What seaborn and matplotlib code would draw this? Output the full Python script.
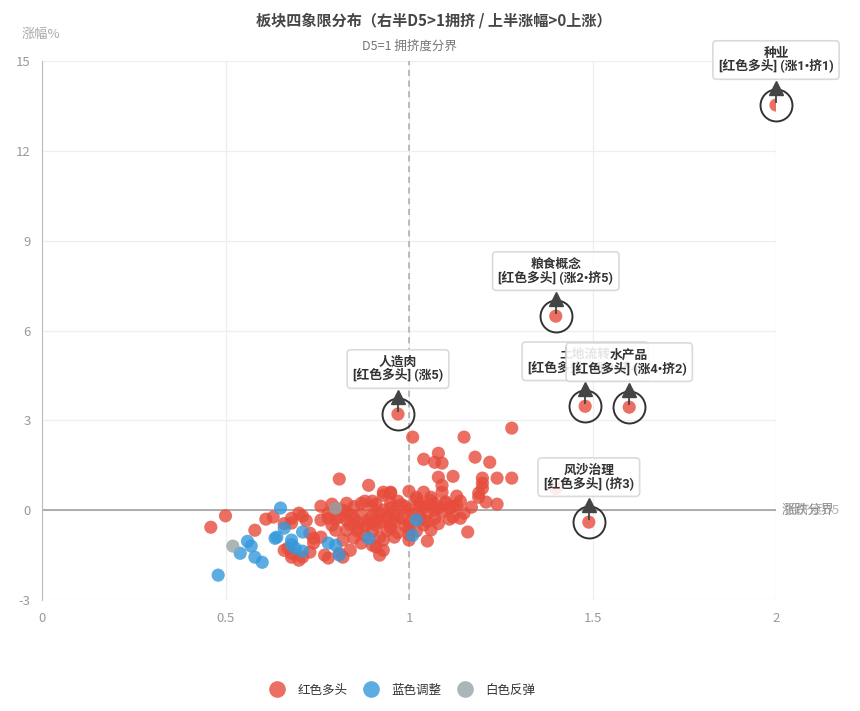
import matplotlib
matplotlib.use("Agg")
import matplotlib.pyplot as plt
from matplotlib.lines import Line2D
from matplotlib.transforms import offset_copy
import seaborn as sns
import pandas as pd

# 数据
red_points = [
    (0.46, -0.57), (0.50, -0.19), (0.58, -0.67), (0.61, -0.30), (0.63, -0.23), (0.66, -0.45),
    (0.68, -0.27), (0.70, -0.10), (0.71, -0.20), (0.68, -0.43), (0.72, -0.35),
    (0.73, -0.77), (0.74, -1.10), (0.73, -1.40), (0.71, -1.57), (0.66, -1.34), (0.68, -1.57),
    (0.70, -1.67), (0.67, -1.27), (0.68, -1.44), (0.74, -0.94), (0.76, -0.90),
    (0.77, -1.50), (0.78, -1.60), (0.82, -1.57), (0.84, -1.34), (0.81, -1.44),
    (0.76, -0.33), (0.78, -0.27), (0.81, -0.23), (0.83, -0.33), (0.80, -0.67), (0.83, -0.67),
    (0.86, -0.57), (0.89, -0.43), (0.91, -0.33), (0.94, -0.23),
    (0.82, -1.00), (0.85, -0.93), (0.87, -1.10), (0.90, -1.17), (0.93, -1.34), (0.92, -0.90),
    (0.91, -1.23), (0.93, -1.00), (0.92, -1.50),
    (0.76, 0.13), (0.79, 0.20), (0.83, 0.23), (0.87, 0.23), (0.90, 0.30), (0.93, 0.50),
    (0.93, 0.60), (0.95, 0.57), (0.81, 1.04), (0.89, 0.83),
    (0.88, 0.30), (0.97, 0.30), (1.02, 0.35), (1.06, 0.32), (1.10, 0.28), (1.14, 0.30),
    (0.80, 0.08), (0.85, 0.12), (0.90, 0.10), (0.95, 0.08), (0.99, 0.12), (1.04, 0.10),
    (1.08, 0.08), (1.12, 0.12), (1.17, 0.10),
    (0.78, -0.10), (0.83, -0.08), (0.87, -0.12), (0.92, -0.10), (0.96, -0.08), (1.01, -0.12),
    (1.05, -0.10), (1.09, -0.06), (1.15, -0.10),
    (0.80, -0.30), (0.85, -0.28), (0.89, -0.32), (0.94, -0.30), (0.98, -0.27), (1.03, -0.31),
    (1.07, -0.28), (1.11, -0.30),
    (0.79, -0.50), (0.84, -0.48), (0.88, -0.52), (0.91, -0.50), (0.95, -0.47), (0.99, -0.52),
    (1.04, -0.49), (1.08, -0.45),
    (0.86, -0.70), (0.90, -0.72), (0.94, -0.68), (0.97, -0.75), (1.02, -0.70), (1.06, -0.66),
    (0.90, -0.20), (0.93, 0.00), (0.97, -0.18), (1.00, 0.02), (1.03, -0.20), (1.07, 0.00),
    (0.86, -0.40), (0.92, -0.40), (0.96, -0.38), (1.00, -0.40), (1.05, -0.38), (0.95, -0.60),
    (1.00, -0.62), (0.88, -0.85), (0.96, -0.90), (1.00, -0.82), (0.98, 0.18), (1.03, 0.15),
    (1.06, 0.18), (0.91, 0.20), (0.95, 0.25), (0.84, -0.15), (0.82, 0.00),
    (1.00, 0.63), (1.01, 2.44), (1.04, 1.70), (1.08, 1.90), (1.07, 1.60), (1.09, 1.57),
    (1.15, 2.44), (1.18, 1.77), (1.22, 1.60), (1.28, 2.74),
    (1.08, 1.10), (1.12, 1.13), (1.09, 0.83), (1.09, 0.60), (1.13, 0.47), (1.13, 0.17),
    (1.20, 1.07), (1.20, 0.90), (1.20, 0.73), (1.24, 1.07), (1.28, 1.07), (1.19, 0.43),
    (1.21, 0.27), (1.24, 0.20), (1.19, 0.57),
    (0.95, 0.60), (1.02, 0.43), (1.03, 0.23), (1.07, 0.23), (1.10, 0.23), (1.11, 0.07),
    (1.06, 0.43), (1.04, 0.60),
    (1.12, -0.23), (1.14, -0.27), (1.16, -0.73), (1.05, -1.03), (1.00, -1.00),
    (1.40, 0.73),
    (0.97, 3.21), (2.00, 13.53), (1.40, 6.48), (1.48, 3.47), (1.60, 3.44), (1.49, -0.40),
]
blue_points = [
    (0.48, -2.17), (0.54, -1.44), (0.56, -1.04), (0.57, -1.20), (0.58, -1.57), (0.60, -1.74),
    (0.635, -0.94), (0.64, -0.90), (0.66, -0.60), (0.65, 0.07), (0.68, -1.00), (0.69, -1.27),
    (0.71, -1.37), (0.71, -0.73), (0.78, -1.10), (0.80, -1.17), (0.81, -1.50), (0.89, -0.94),
    (1.01, -0.84), (1.02, -0.33), (0.68, -1.15),
]
gray_points = [(0.52, -1.20), (0.80, 0.07)]

series_names = ["红色多头", "蓝色调整", "白色反弹"]
series_colors = ["#e74c3c", "#3498db", "#95a5a6"]

hl_names = ["种业", "粮食概念", "土地流转", "水产品", "人造肉", "风沙治理"]
hl_tags = ["(涨1•挤1)", "(涨2•挤5)", "(涨3•挤4)", "(涨4•挤2)", "(涨5)", "(挤3)"]
hl_x = [2.00, 1.40, 1.48, 1.60, 0.97, 1.49]
hl_y = [13.53, 6.48, 3.47, 3.44, 3.21, -0.40]

x_ticks = [0, 0.5, 1, 1.5, 2]
x_tick_labels = ["0", "0.5", "1", "1.5", "2"]
y_ticks = [-3, 0, 3, 6, 9, 12, 15]

rows = []
for name, pts in zip(series_names, [red_points, blue_points, gray_points]):
    for x, y in pts:
        rows.append({"D5": x, "涨幅": y, "类型": name})
df = pd.DataFrame(rows)

sns.set_style("white")
plt.rcParams["font.family"] = ["Noto Sans CJK SC", "DejaVu Sans"]
plt.rcParams["axes.unicode_minus"] = False

fig = plt.figure(figsize=(8.6, 7.11), dpi=100)
ax = fig.add_axes([42 / 860, 1 - 600 / 711, (776 - 42) / 860, (600 - 61) / 711])

sns.scatterplot(data=df, x="D5", y="涨幅", hue="类型", palette=series_colors,
                hue_order=series_names, s=90, alpha=0.8, linewidth=0, legend=False,
                ax=ax, zorder=3)

ax.set_xlim(0, 2)
ax.set_ylim(-3, 15)
ax.set_xticks(x_ticks)
ax.set_xticklabels(x_tick_labels)
ax.set_yticks(y_ticks)
ax.set_xlabel("")
ax.set_ylabel("")
ax.grid(True, color="#eeeeee", linewidth=0.9, zorder=0)
ax.set_axisbelow(True)
for side in ["top", "right", "bottom"]:
    ax.spines[side].set_visible(False)
ax.spines["left"].set_color("#bbbbbb")
ax.tick_params(axis="y", length=5, color="#bbbbbb", labelcolor="#999999", labelsize=9.5, pad=3)
ax.tick_params(axis="x", length=0, labelcolor="#999999", labelsize=9.5, pad=9)

# 分界线
ax.axhline(0, color="#999999", linewidth=1.1, zorder=2)
ax.axvline(1, color="#aaaaaa", linewidth=1.1, linestyle=(0, (4, 3)), zorder=2)
fig.text(409 / 860, 1 - 46 / 711, "D5=1 拥挤度分界", ha="center", va="center",
         fontsize=9, color="#777777")
ax.text(2.022, 0, "拥挤度D5", ha="left", va="center", fontsize=9.5, color="#b5b5b5", clip_on=False)
ax.text(2.015, 0, "涨跌分界", ha="left", va="center", fontsize=9.5, color="#8c8c8c", clip_on=False)

fig.text(22 / 860, 1 - 34 / 711, "涨幅%", ha="left", va="center", fontsize=9.5, color="#aaaaaa")
fig.text(0.505, 1 - 20 / 711, "板块四象限分布（右半D5>1拥挤 / 上半涨幅>0上涨）",
         ha="center", va="center", fontsize=10.9, fontweight="bold", color="#464646")

# 标注
tri_tr = offset_copy(ax.transData, fig=fig, x=0, y=17, units="dots")
bar_tr = offset_copy(ax.transData, fig=fig, x=0, y=7, units="dots")
ax.plot(hl_x, hl_y, linestyle="none", marker="o", markersize=23, markerfacecolor="none",
        markeredgecolor="#333333", markeredgewidth=1.4, zorder=5, clip_on=False)
ax.plot(hl_x, hl_y, linestyle="none", marker="^", markersize=10, color="#444444",
        transform=tri_tr, zorder=5, clip_on=False)
ax.plot(hl_x, hl_y, linestyle="none", marker="|", markersize=7, markeredgewidth=1.3,
        color="#444444", transform=bar_tr, zorder=5, clip_on=False)
for i, (nm, tg, x, y) in enumerate(zip(hl_names, hl_tags, hl_x, hl_y)):
    ax.annotate(f"{nm}\n[红色多头] {tg}", xy=(x, y), xytext=(0, 45), textcoords="offset pixels",
                ha="center", va="center", fontsize=9.2, fontweight="bold", color="#333333",
                family=["Roboto", "Noto Sans CJK SC"],
                linespacing=1.0, zorder=6 + i, annotation_clip=False,
                bbox=dict(boxstyle="round,pad=0.45,rounding_size=0.3", facecolor="white",
                          edgecolor="#d5d5d5", linewidth=1.2, alpha=0.88))

handles = [Line2D([], [], linestyle="none", marker="o", markersize=12, markerfacecolor=c,
                  markeredgewidth=0, alpha=0.8) for c in series_colors]
fig.legend(handles, series_names, loc="center", bbox_to_anchor=(0.465, 1 - 690 / 711), ncol=3,
           frameon=False, fontsize=9, handletextpad=0.6, columnspacing=0.9, labelcolor="#333333")

fig.savefig("out.png", dpi=100)
